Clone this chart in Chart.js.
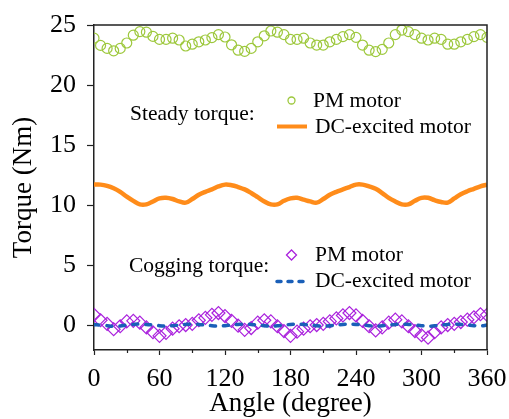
<!DOCTYPE html>
<html><head><meta charset="utf-8">
<script src="https://cdn.jsdelivr.net/npm/chart.js@4/dist/chart.umd.min.js"></script>
<style>html,body{margin:0;padding:0;background:#fff;}canvas{display:block}</style>
</head><body><canvas id="c" width="509" height="419"></canvas>
<script>
const angles = [0,6,12,18,24,30,36,42,48,54,60,66,72,78,84,90,96,102,108,114,120,126,132,138,144,150,156,162,168,174,180,186,192,198,204,210,216,222,228,234,240,246,252,258,264,270,276,282,288,294,300,306,312,318,324,330,336,342,348,354,360];
const pmSteady = [23.9,23.3,23.05,22.85,23.05,23.5,24.15,24.45,24.4,24.05,23.8,23.8,23.9,23.75,23.25,23.4,23.6,23.75,23.95,24.2,24.0,23.35,22.9,22.8,23.05,23.6,24.1,24.5,24.4,24.2,23.8,23.8,23.9,23.5,23.33,23.33,23.6,23.8,24.03,24.2,23.97,23.33,22.9,22.78,22.97,23.5,24.2,24.58,24.45,24.2,23.9,23.75,23.9,23.8,23.4,23.4,23.6,23.8,24.03,24.2,23.97];
const dcSteady = [11.7,11.7,11.6,11.4,11.1,10.7,10.35,10.05,10.05,10.3,10.55,10.6,10.5,10.3,10.2,10.5,10.85,11.1,11.3,11.55,11.7,11.65,11.5,11.3,11.0,10.65,10.3,10.05,10.05,10.35,10.55,10.6,10.45,10.3,10.2,10.5,10.85,11.1,11.3,11.5,11.7,11.7,11.55,11.35,11.0,10.6,10.3,10.05,10.05,10.35,10.6,10.6,10.4,10.25,10.2,10.55,10.9,11.15,11.35,11.55,11.7];
const pmCogging = [0.85,0.4,0.1,-0.35,-0.1,0.3,0.35,0.2,-0.2,-0.6,-0.9,-0.65,-0.3,-0.1,0.0,0.1,0.4,0.6,0.85,1.0,0.75,0.35,-0.05,-0.4,-0.25,0.2,0.4,0.3,-0.1,-0.5,-0.9,-0.55,-0.3,-0.1,0.0,0.1,0.3,0.55,0.8,1.0,0.8,0.35,-0.1,-0.45,-0.2,0.2,0.45,0.3,-0.1,-0.5,-0.85,-1.05,-0.6,-0.2,0.0,0.1,0.25,0.45,0.65,0.9,0.85];
const dcCogging = [0.02,0.0,-0.05,-0.1,-0.08,0.0,0.05,0.08,0.05,0.0,-0.05,-0.1,-0.06,0.0,0.05,0.08,0.05,0.0,-0.05,-0.1,-0.05,0.0,0.05,0.08,0.05,0.0,-0.05,-0.1,-0.06,0.0,0.05,0.08,0.05,0.0,-0.05,-0.1,-0.06,0.0,0.05,0.08,0.05,0.0,-0.05,-0.1,-0.06,0.0,0.05,0.08,0.05,0.0,-0.05,-0.1,-0.06,0.0,0.05,0.08,0.05,0.0,-0.05,-0.08,0.0];
const xTicks = [0,60,120,180,240,300,360];
const xMinorTicks = [30,90,150,210,270,330];
const yTicks = [0,5,10,15,20,25];

const FONT = "'Liberation Serif','Times New Roman',serif";
const C_GREEN = '#9dc83c', C_ORANGE = '#ff8c1a', C_PURPLE = '#aa22dd', C_BLUE = '#1a5fb8', AX = '#222';

function pts(vals){ return angles.map((a,i)=>({x:a,y:vals[i]})); }

const framePlugin = {
  id:'frame',
  afterDraw(chart){
    const {ctx, chartArea:ca, scales:{x}} = chart;
    ctx.save();
    ctx.strokeStyle = AX; ctx.lineWidth = 1.5;
    ctx.beginPath();
    ctx.moveTo(ca.left, ca.top); ctx.lineTo(ca.right, ca.top); ctx.lineTo(ca.right, ca.bottom);
    ctx.stroke();
    ctx.lineWidth = 1.2;
    ctx.beginPath();
    xMinorTicks.forEach(v=>{ const px = Math.round(x.getPixelForValue(v))+0.5; ctx.moveTo(px, ca.bottom); ctx.lineTo(px, ca.bottom+3); });
    ctx.stroke();
    // legend texts
    ctx.fillStyle = '#000';
    ctx.font = "21.5px " + FONT;
    ctx.textBaseline = 'alphabetic'; ctx.textAlign = 'left';
    ctx.fillText('Steady torque:', 130, 120);
    ctx.fillText('PM motor', 313, 107);
    ctx.fillText('DC-excited motor', 315, 133);
    ctx.fillText('Cogging torque:', 129, 272);
    ctx.fillText('PM motor', 315, 261);
    ctx.fillText('DC-excited motor', 315, 287);
    // markers
    ctx.strokeStyle = C_GREEN; ctx.lineWidth = 1.3;
    ctx.beginPath(); ctx.arc(291.5, 100.5, 3.5, 0, Math.PI*2); ctx.stroke();
    ctx.strokeStyle = C_ORANGE; ctx.lineWidth = 4;
    ctx.beginPath(); ctx.moveTo(277, 126.5); ctx.lineTo(307, 126.5); ctx.stroke();
    ctx.strokeStyle = C_PURPLE; ctx.lineWidth = 1.3;
    ctx.beginPath(); ctx.moveTo(286.5,255); ctx.lineTo(291.5,250); ctx.lineTo(296.5,255); ctx.lineTo(291.5,260); ctx.closePath(); ctx.stroke();
    ctx.strokeStyle = C_BLUE; ctx.lineWidth = 3.5; ctx.lineCap = 'round'; ctx.setLineDash([4,7]);
    ctx.beginPath(); ctx.moveTo(277, 281.5); ctx.lineTo(307, 281.5); ctx.stroke();
    ctx.restore();
  }
};

new Chart(document.getElementById('c'), {
  type:'line',
  data:{ datasets:[
    { label:'DC-excited motor (cogging)', data:pts(dcCogging), borderColor:C_BLUE, borderWidth:3.5, borderDash:[5,8], borderCapStyle:'round', pointRadius:0, tension:0.4, fill:false },
    { label:'PM motor (cogging)', data:pts(pmCogging), showLine:false, pointStyle:'rectRot', pointRadius:6.5, pointBorderWidth:1.2, pointBorderColor:C_PURPLE, pointBackgroundColor:'rgba(0,0,0,0)', borderColor:C_PURPLE },
    { label:'DC-excited motor (steady)', data:pts(dcSteady), borderColor:C_ORANGE, borderWidth:4.5, pointRadius:0, tension:0.4, fill:false },
    { label:'PM motor (steady)', data:pts(pmSteady), showLine:false, pointStyle:'circle', pointRadius:5, pointBorderWidth:1.2, pointBorderColor:C_GREEN, pointBackgroundColor:'rgba(0,0,0,0)', borderColor:C_GREEN }
  ]},
  options:{
    responsive:false, animation:false, devicePixelRatio:1,
    layout:{ padding:{ top:25, right:22, left:0, bottom:0 } },
    plugins:{ legend:{display:false}, tooltip:{enabled:false} },
    scales:{
      x:{ type:'linear', min:0, max:360,
        afterBuildTicks:s=>{ s.ticks = xTicks.map(v=>({value:v})); },
        afterFit:s=>{ s.height = 69; s.paddingLeft = 0; s.paddingRight = 0; },
        grid:{ drawOnChartArea:false, drawTicks:true, tickLength:5, tickColor:AX, tickWidth:1.2 },
        border:{ color:AX, width:1.5 },
        ticks:{ color:'#000', font:{ family:FONT, size:26 }, padding:8.5, maxRotation:0, autoSkip:false },
        title:{ display:true, text:'Angle (degree)', color:'#000', font:{ family:FONT, size:27, lineHeight:1 }, padding:{ top:0, bottom:2 } }
      },
      y:{ type:'linear', min:-2.08, max:25,
        afterBuildTicks:s=>{ s.ticks = yTicks.map(v=>({value:v})); },
        afterFit:s=>{ s.width = 94; s.paddingTop = 0; s.paddingBottom = 0; },
        grid:{ drawOnChartArea:false, drawTicks:true, tickLength:7, tickColor:AX, tickWidth:1.2 },
        border:{ color:AX, width:1.5 },
        ticks:{ color:'#000', font:{ family:FONT, size:26 }, padding:11, autoSkip:false },
        title:{ display:true, text:'Torque (Nm)', color:'#000', font:{ family:FONT, size:27, lineHeight:1 }, padding:{ top:10, bottom:0 } }
      }
    }
  },
  plugins:[framePlugin]
});
</script>
</body></html>
